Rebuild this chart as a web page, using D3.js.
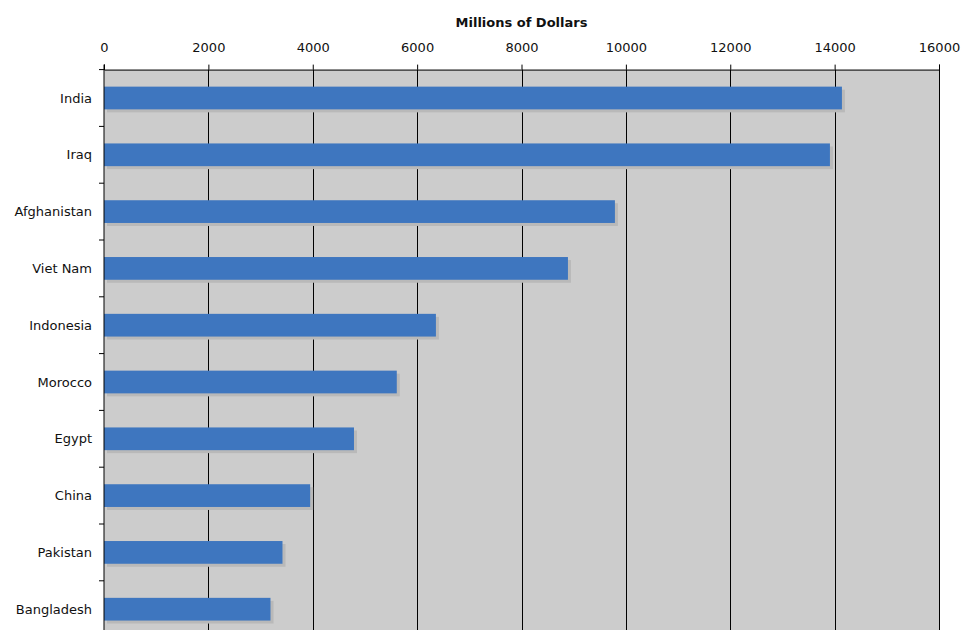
<!DOCTYPE html>
<html>
<head>
<meta charset="utf-8">
<script src="https://cdn.jsdelivr.net/npm/d3@7"></script>
<style>
  body { margin: 0; background: #fff; }
  text { font-family: "DejaVu Sans", Verdana, sans-serif; fill: #111; }
</style>
</head>
<body>
<div id="chart"></div>
<script>
// data
var countries = ["India", "Iraq", "Afghanistan", "Viet Nam", "Indonesia", "Morocco", "Egypt", "China", "Pakistan", "Bangladesh"];
var dollars = [14140, 13910, 9790, 8890, 6360, 5610, 4790, 3950, 3420, 3190];
var xTicks = [0, 2000, 4000, 6000, 8000, 10000, 12000, 14000, 16000];

var width = 963, height = 630;
var plotLeft = 104, plotRight = 939, plotTop = 69.6, step = 56.8;

var svg = d3.select("#chart").append("svg")
    .attr("width", width)
    .attr("height", height);

var x = d3.scaleLinear().domain([0, 16000]).range([plotLeft, plotRight]);
var y = d3.scaleBand().domain(countries)
    .range([plotTop, plotTop + step * countries.length])
    .paddingInner(0.6).paddingOuter(0.3);

// plot background
svg.append("rect")
    .attr("x", plotLeft).attr("y", plotTop)
    .attr("width", plotRight - plotLeft).attr("height", height - plotTop)
    .attr("fill", "#cccccc");

// vertical grid lines
svg.append("g").classed("grid", true)
    .selectAll("line").data(xTicks.slice(1))
    .join("line")
    .attr("x1", d => Math.round(x(d)) + 0.5).attr("x2", d => Math.round(x(d)) + 0.5)
    .attr("y1", plotTop).attr("y2", height)
    .attr("stroke", "#000").attr("stroke-width", 1);

// bar shadows then bars
svg.append("g").classed("shadows", true)
    .selectAll("rect").data(countries)
    .join("rect")
    .attr("x", x(0) + 3)
    .attr("y", d => y(d) + 3)
    .attr("width", (d, i) => x(dollars[i]) - x(0))
    .attr("height", y.bandwidth())
    .attr("fill", "#b9b9b9");

svg.append("g").classed("bars", true)
    .selectAll("rect").data(countries)
    .join("rect")
    .attr("x", x(0))
    .attr("y", d => y(d))
    .attr("width", (d, i) => x(dollars[i]) - x(0))
    .attr("height", y.bandwidth())
    .attr("fill", "#3e76bf");

// top axis
var xAxis = svg.append("g")
    .attr("transform", "translate(0," + plotTop + ")")
    .call(d3.axisTop(x).tickValues(xTicks).tickFormat(d3.format("d")).tickSize(5).tickPadding(13));
xAxis.select(".domain").attr("stroke", "#000");
xAxis.selectAll("text").attr("font-size", 13).attr("font-family", "DejaVu Sans").attr("fill", "#111");

// left axis with ticks at band boundaries
svg.append("line")
    .attr("x1", plotLeft).attr("x2", plotLeft)
    .attr("y1", plotTop - 5).attr("y2", height)
    .attr("stroke", "#000");
svg.append("g").classed("y-ticks", true)
    .selectAll("line").data(d3.range(countries.length + 1))
    .join("line")
    .attr("x1", plotLeft - 5).attr("x2", plotLeft)
    .attr("y1", i => plotTop + i * step).attr("y2", i => plotTop + i * step)
    .attr("stroke", "#000");

svg.append("g").classed("y-labels", true)
    .selectAll("text").data(countries)
    .join("text")
    .attr("x", plotLeft - 12)
    .attr("y", d => y(d) + y.bandwidth() / 2)
    .attr("dy", "0.35em")
    .attr("text-anchor", "end")
    .attr("font-size", 13)
    .text(d => d);

// axis title
svg.append("text")
    .attr("x", (plotLeft + plotRight) / 2)
    .attr("y", 27)
    .attr("text-anchor", "middle")
    .attr("font-size", 13)
    .attr("font-weight", "bold")
    .text("Millions of Dollars");
</script>
</body>
</html>
